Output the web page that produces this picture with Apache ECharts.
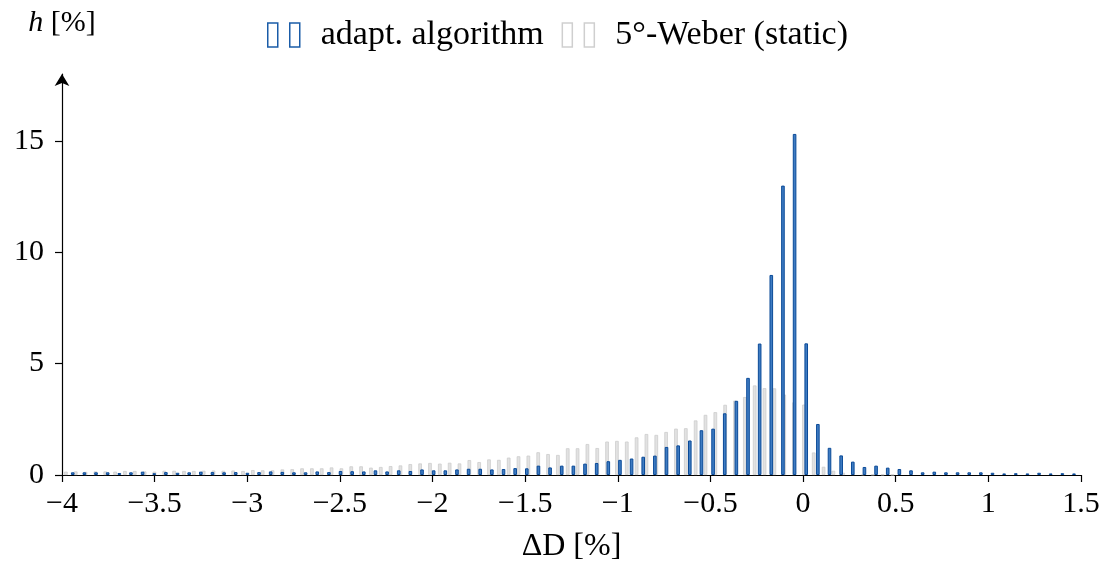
<!DOCTYPE html>
<html>
<head>
<meta charset="utf-8">
<script src="https://cdn.jsdelivr.net/npm/echarts@6/dist/echarts.min.js"></script>
<style>
  html, body { margin: 0; padding: 0; background: #fff; }
  #main { width: 1102px; height: 563px; }
</style>
</head>
<body>
<div id="main"></div>
<script>
// histogram bins: centre of the first bin and bin width (in %)
var adaptStart = -3.942, adaptStep = 0.06284;
var weberStart = -3.979, weberStep = 0.05311;

// h [%] for each bin, adapt. algorithm
var adaptValues = [
  0.12, 0.12, 0.12, 0.12, 0.09, 0.12, 0.15, 0.08, 0.13, 0.10, 0.12, 0.15,
  0.13, 0.12, 0.13, 0.10, 0.13, 0.16, 0.14, 0.12, 0.12, 0.16, 0.13, 0.18, 0.17,
  0.16, 0.21, 0.16, 0.21, 0.18, 0.25, 0.21, 0.21, 0.25, 0.28, 0.28, 0.25,
  0.27, 0.31, 0.30, 0.42, 0.34, 0.42, 0.42, 0.51, 0.54,
  0.62, 0.68, 0.74, 0.82, 0.87, 1.26, 1.33, 1.55, 2.01, 2.08, 2.77, 3.33, 4.36,
  5.90, 8.98, 12.99, 15.31, 5.91, 2.29, 1.22, 0.88,
  0.60, 0.36, 0.42, 0.33, 0.27, 0.21, 0.12, 0.15, 0.12, 0.12, 0.12, 0.12, 0.10,
  0.07, 0.08, 0.07, 0.10, 0.07, 0.08, 0.07
];

// h [%] for each bin, 5°-Weber (static)
var weberValues = [
  0.15, 0.16, 0.14, 0.16, 0.16, 0.15, 0.18, 0.18, 0.16, 0.15, 0.19, 0.19, 0.18, 0.18, 0.19,
  0.20, 0.19, 0.20, 0.18, 0.22, 0.21, 0.21, 0.25, 0.26, 0.30, 0.30, 0.30, 0.34, 0.30, 0.39,
  0.39, 0.33, 0.36, 0.40, 0.43, 0.49, 0.52, 0.54, 0.51, 0.55, 0.52, 0.67, 0.58, 0.70, 0.68,
  0.78, 0.84, 0.87, 1.02, 0.94, 0.90, 1.20, 1.20, 1.39, 1.21,
  1.50, 1.53, 1.50, 1.69, 1.84, 1.80, 1.93, 2.08, 2.10, 2.45, 2.70, 2.82, 3.15, 3.34,
  3.50, 4.02, 3.90, 3.89, 3.61, 3.26, 3.16, 1.01, 0.37, 0.19, 0.10,
  0.05, 0.03, 0.02, 0.02, 0.01
];

var yTicks = [0, 5, 10, 15];
var seriesNames = ['adapt. algorithm', '5°-Weber (static)'];

var font = 'Liberation Serif';

function toPairs(start, step, vals) {
  return vals.map(function (v, i) { return [start + i * step, v]; });
}
function minus(v) {
  return String(v).replace('-', '\u2212');
}

var chart = echarts.init(document.getElementById('main'));
chart.setOption({
  animation: false,
  backgroundColor: '#fff',
  grid: { left: 62, right: 21, top: 74, bottom: 88, containLabel: false, outerBoundsMode: 'none' },
  legend: {
    left: 262, top: 13,
    itemWidth: 32, itemHeight: 24, itemGap: 18,
    textStyle: { fontFamily: font, fontSize: 34, color: '#000', padding: [0, 0, 0, 16] },
    data: [
      { name: seriesNames[0], icon: 'path://M0,0H10V24H0Z M22,0H32V24H22Z',
        itemStyle: { color: 'rgba(255,255,255,0)', borderColor: '#1a5ca8', borderWidth: 1.5 } },
      { name: seriesNames[1], icon: 'path://M0,0H10V24H0Z M22,0H32V24H22Z',
        itemStyle: { color: 'rgba(255,255,255,0)', borderColor: '#cfcfcf', borderWidth: 1.5 } }
    ]
  },
  xAxis: {
    type: 'value', min: -4, max: 1.5, interval: 0.5,
    name: 'ΔD [%]', nameLocation: 'middle', nameGap: 56,
    nameTextStyle: { fontFamily: font, fontSize: 32, color: '#000' },
    axisLine: { onZero: false, lineStyle: { color: '#000', width: 1.2 } },
    axisTick: { show: true, length: 7, inside: false, lineStyle: { color: '#000', width: 1.2 } },
    axisLabel: { margin: 14, fontFamily: font, fontSize: 30, color: '#000', formatter: minus },
    splitLine: { show: false }
  },
  yAxis: {
    type: 'value', min: 0, max: 18,
    name: '{i|h} [%]', nameLocation: 'end', nameGap: 36,
    nameTextStyle: { fontFamily: font, fontSize: 30, color: '#000', align: 'center',
      rich: { i: { fontFamily: font, fontSize: 30, fontStyle: 'italic', color: '#000' } } },
    axisLine: { show: true, onZero: false, symbol: ['none', 'arrow'], symbolSize: [11, 12], symbolOffset: [0, 0],
      lineStyle: { color: '#000', width: 1.2 } },
    axisTick: { show: true, length: 7, customValues: yTicks, lineStyle: { color: '#000', width: 1.2 } },
    axisLabel: { margin: 18, fontFamily: font, fontSize: 30, color: '#000', customValues: yTicks },
    splitLine: { show: false }
  },
  series: [
    {
      name: seriesNames[1], type: 'bar', barWidth: 3.6, barGap: '-100%', z: 2,
      itemStyle: { color: '#e2e2e2', borderColor: '#cdcdcd', borderWidth: 0.8 },
      data: toPairs(weberStart, weberStep, weberValues)
    },
    {
      name: seriesNames[0], type: 'bar', barWidth: 3.6, barGap: '-100%', z: 3,
      itemStyle: { color: '#3f7cc2', borderColor: '#0a4a98', borderWidth: 1 },
      data: toPairs(adaptStart, adaptStep, adaptValues)
    }
  ]
});
</script>
</body>
</html>
